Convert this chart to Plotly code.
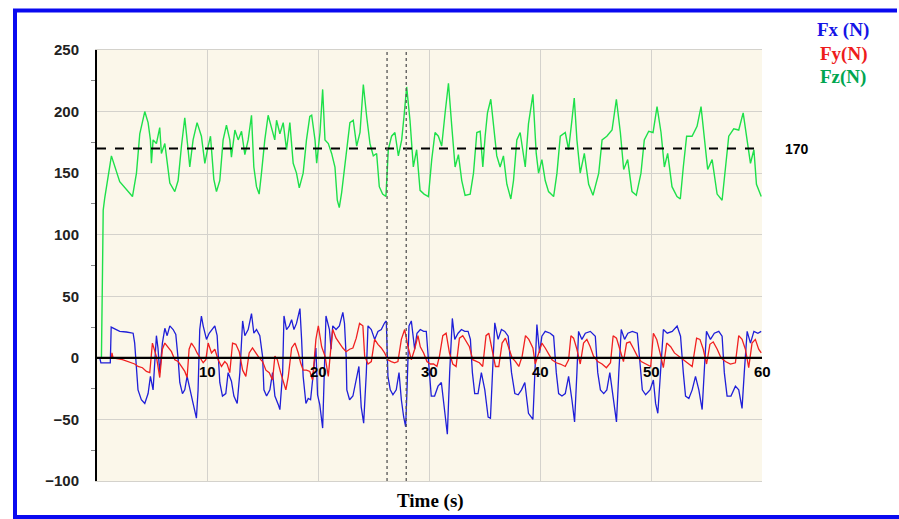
import plotly.graph_objects as go

# ---------------- data ----------------
fz_t = [0, 0.4, 0.5, 0.56, 0.7, 1.3, 2.05, 2.65, 3.2, 3.56, 3.86, 4.31, 4.61, 4.82, 4.91, 5.06, 5.36, 5.66, 5.81, 6.12,
        6.57, 7.02, 7.32, 7.62, 7.92, 8.22, 8.37, 8.67, 9.03, 9.42, 9.73, 10.03, 10.24, 10.54, 10.78, 11.08, 11.38, 11.68,
        11.98, 12.13, 12.44, 12.74, 13.04, 13.34, 13.64, 13.94, 14.15, 14.39, 14.63, 14.84, 15.14, 15.44, 15.74, 16.04,
        16.2, 16.5, 16.8, 17.1, 17.4, 17.7, 18.0, 18.25, 18.6, 18.9, 19.2, 19.37, 19.67, 19.82, 20.12, 20.36, 20.57, 20.87,
        21.17, 21.47, 21.68, 21.86, 22.07, 22.28, 22.52, 22.82, 23.12, 23.43, 23.73, 24.03, 24.33, 24.63, 24.93, 25.23,
        25.47, 25.77, 26.07, 26.28, 26.58, 26.88, 27.19, 27.49, 27.70, 27.94, 28.24, 28.54, 28.84, 29.15, 29.51, 29.9,
        30.2, 30.5, 30.8, 31.1, 31.41, 31.71, 32.01, 32.31, 32.61, 32.91, 33.21, 33.67, 33.97, 34.27, 34.57, 34.81, 35.02,
        35.23, 35.53, 35.77, 36.07, 36.37, 36.67, 36.98, 37.34, 37.58, 37.88, 38.18, 38.64, 38.93, 39.33, 39.63, 39.84,
        40.14, 40.44, 40.74, 41.2, 41.5, 41.8, 42.25, 42.55, 42.85, 43.06, 43.3, 43.6, 43.97, 44.36, 44.75, 45.27, 45.57,
        46.0, 46.47, 46.86, 47.22, 47.52, 47.88, 48.27, 48.66, 49.08, 49.38, 49.78, 50.17, 50.53, 50.89, 51.19, 51.49,
        51.88, 52.33, 52.63, 52.9, 53.2, 53.69, 54.14, 54.5, 54.8, 55.1, 55.5, 55.95, 56.4, 56.7, 57.0, 57.45, 57.9, 58.3,
        58.66, 58.96, 59.27, 59.5, 59.93]
fz_v = [0, 0, 73, 120, 130, 164, 143, 137, 131, 150, 182, 200, 191, 177, 158, 177, 174, 187, 166, 174,
        142, 135, 144, 172, 195, 169, 155, 177, 191, 180, 158, 172, 180, 145, 135, 144, 177, 189,
        177, 163, 185, 177, 184, 165, 177, 197, 155, 139, 133, 150, 177, 197, 188, 177,
        193, 182, 191, 169, 191, 158, 150, 138, 150, 177, 196, 197, 177, 158, 183, 218, 177, 174,
        166, 155, 128, 122, 134, 150, 172, 191, 193, 172, 183, 222, 196, 174, 164, 166,
        139, 133, 131, 169, 180, 183, 164, 177, 196, 220, 193, 155, 169, 136, 133, 131,
        161, 183, 180, 172, 199, 223, 188, 155, 165, 144, 132, 133, 150, 183, 184, 155, 180,
        199, 210, 188, 164, 155, 164, 141, 129, 144, 177, 183, 155, 190, 214, 166, 150,
        161, 144, 135, 131, 150, 180, 183, 169, 193, 211, 177, 150, 166, 141, 132, 150, 177,
        180, 185, 210, 183, 153, 161, 135, 132, 150, 177, 184, 183, 204, 183, 155, 166,
        139, 131, 129, 155, 180, 180, 188, 204, 177, 153, 161, 133, 128, 155, 180, 186, 185, 199,
        177, 158, 169, 141, 131]

fx_t = [0, 0.25, 0.35, 1.2, 1.28, 2.05, 2.65, 3.26, 3.4, 3.56, 3.7, 4.0, 4.31, 4.61, 4.82, 5.06, 5.21, 5.36, 5.5, 5.66,
        5.9, 6.12, 6.33, 6.57, 6.87, 7.11, 7.32, 7.47, 7.71, 7.92, 8.13, 8.37, 8.67, 8.97, 9.12, 9.27, 9.42, 9.58, 9.88,
        10.12, 10.42, 10.63, 10.84, 11.08, 11.32, 11.62, 11.83, 12.13, 12.35, 12.65, 12.89, 13.14, 13.34, 13.64, 13.94,
        14.15, 14.39, 14.69, 14.94, 15.06, 15.3, 15.6, 15.84, 16.05, 16.36, 16.5, 16.75, 16.87, 17.1, 17.35, 17.56, 17.77,
        18.0, 18.16, 18.31, 18.46, 18.6, 18.85, 19.06, 19.27, 19.5, 19.75, 19.9, 20.1, 20.36, 20.5, 20.66, 20.97, 21.12,
        21.27, 21.57, 21.87, 22.18, 22.33, 22.48, 22.54, 22.79, 23.09, 23.39, 23.63, 23.84, 24.06, 24.3, 24.45, 24.75,
        25.05, 25.35, 25.65, 25.95, 26.1, 26.25, 26.46, 26.7, 27.0, 27.25, 27.46, 27.67, 27.85, 27.97, 28.15, 28.36,
        28.66, 28.87, 29.17, 29.47, 29.71, 29.95, 30.16, 30.46, 30.77, 31.07, 31.37, 31.61, 31.82, 32.06, 32.28, 32.58,
        32.88, 33.18, 33.48, 33.69, 33.87, 34.08, 34.38, 34.68, 34.99, 35.29, 35.5, 35.68, 35.89, 36.19, 36.49, 36.79,
        37.1, 37.4, 37.7, 38.0, 38.3, 38.6, 38.93, 39.33, 39.54, 39.69, 39.93, 40.14, 40.44, 40.89, 41.2, 41.44, 41.65,
        41.95, 42.25, 42.55, 42.85, 43.09, 43.3, 43.45, 43.75, 44.06, 44.51, 44.96, 45.18, 45.42, 45.72, 46.0, 46.27,
        46.57, 46.87, 47.08, 47.3, 47.6, 47.9, 48.3, 48.75, 48.99, 49.2, 49.5, 49.9, 50.2, 50.4, 50.6, 50.85, 51.1,
        51.45, 51.9, 52.34, 52.65, 52.9, 53.1, 53.4, 53.7, 54.0, 54.3, 54.6, 54.8, 54.99, 55.35, 55.7, 56.1, 56.4, 56.6,
        56.85, 57.2, 57.6, 57.9, 58.2, 58.4, 58.66, 58.96, 59.27, 59.63, 59.93]
fx_v = [0, 0, -4, -4, 25, 21.5, 21, 20, 12, -12, -26, -34, -37, -29, -15, -26, 1, 18, 8, -12,
        12, 24, 18, 26, 23, 19, -1, -20, -29, -26, -15, -26, -37, -49, -26, 23, 34, 26, 15,
        20, 23, 26, 18, -20, -31, -29, -12, -19, -31, -37, -12, 30, 18, 23, 36,
        20, 23, 18, 1, -26, -31, -26, -12, -31, -38, -42, -12, 34, 23, 26, 31, 23,
        28, 34, 40, 15, -15, -37, -33, -34, -15, 8, -30, -38, -57, -10, 34, 23, 7,
        26, 23, 26, 37, 28, 1, -26, -34, -31, -18, -7, -40, -53, -12, 26, 23,
        15, 21.5, 23, 28.5, 30, -15, -26, -30, -26, -12, -34, -48, -56, -26, 26, 30,
        7, 20, 23, 21.5, 21.5, -7, -31, -31, -23, -20, -42, -62, -12, 32, 15, 20,
        23, 21.5, 21.5, 15, -12, -29, -29, -12, -26, -48, -49, -12, 28.5, 15, 23, 21.5,
        17.6, -12, -29, -30, -26, -20, -45, -50, 1, 27, 4, 17.6, 21.5, 20, 17.6, -12, -29,
        -31, -29, -15, -34, -52, -12, 21.5, 15, 20, 21.5, 17.6, -12, -26, -29, -26, -12,
        -31, -52, -12, 23, 15, 20, 21.5, 20, -4, -26, -30, -26, -18, -37, -45, -12, 23,
        20, 21.5, 25.8, 17.6, -12, -31, -33, -26, -15, -26, -42, -12, 21.5, 15, 20, 21.5, 17.6, -12,
        -31, -31, -23, -26, -41, -12, 21.5, 12, 21.5, 20, 21.5]

fy_t = [0, 1.3, 1.35, 1.45, 2.3, 3.4, 3.7, 4.1, 4.46, 4.76, 5.0, 5.21, 5.36, 5.66, 5.9, 6.12, 6.42, 6.72, 7.02, 7.32,
        7.62, 7.92, 8.13, 8.31, 8.52, 8.82, 9.03, 9.27, 9.58, 9.82, 10.03, 10.33, 10.63, 10.93, 11.23, 11.53, 11.74,
        11.98, 12.23, 12.53, 12.83, 13.14, 13.43, 13.73, 14.03, 14.33, 14.63, 14.94, 15.24, 15.54, 15.84, 16.05, 16.27,
        16.57, 16.87, 17.04, 17.26, 17.56, 17.86, 18.16, 18.37, 18.6, 18.9, 19.2, 19.45, 19.75, 19.97, 20.27, 20.57,
        20.87, 21.17, 21.27, 21.57, 21.87, 22.18, 22.48, 22.79, 23.09, 23.39, 23.69, 23.99, 24.15, 24.45, 24.75, 25.05,
        25.35, 25.65, 25.95, 26.25, 26.55, 26.85, 27.15, 27.46, 27.76, 28.06, 28.36, 28.66, 28.96, 29.17, 29.47, 29.77,
        30.07, 30.37, 30.67, 30.9, 31.2, 31.5, 31.8, 32.1, 32.4, 32.7, 33.0, 33.3, 33.6, 33.9, 34.2, 34.5, 34.8, 35.1,
        35.35, 35.65, 35.95, 36.25, 36.55, 36.85, 37.16, 37.46, 37.76, 38.06, 38.36, 38.66, 38.96, 39.33, 39.54, 39.84,
        40.14, 40.44, 40.74, 41.05, 41.44, 41.8, 42.25, 42.55, 42.76, 43.0, 43.3, 43.6, 43.9, 44.2, 44.5, 44.8, 45.18,
        45.57, 45.96, 46.33, 46.57, 46.87, 47.17, 47.5, 47.78, 48.08, 48.38, 48.75, 49.1, 49.5, 49.96, 50.2, 50.5, 50.8,
        51.1, 51.4, 51.76, 52.1, 52.5, 52.9, 53.25, 53.7, 54.1, 54.4, 54.7, 55.0, 55.3, 55.6, 55.96, 56.3, 56.7, 57.15,
        57.6, 57.9, 58.2, 58.5, 58.8, 59.1, 59.4, 59.7, 59.93]
fy_v = [0, 0, 4, 0, -1.5, -5, -7, -8, -11, -12, 12, 5, 1, -16, 7, 12, 8, 5, -1.5, -3,
        -7, -11, -16, 7, 12, 8, 4, 0, -4, -1.5, 12, 4, 7, -1.5, -7, -3, -5,
        -12, 12, 11, 5, -10, -15, 4, 8, 4, 0, -3, -10, -12, -18, 1.4, -1.5,
        -12, -20, -26, -15, 8, 12, 4, -4, -10, -10, -11, -18, 15, 26, 9, 1.4,
        -15, 15, 23, 16, 12, 8, 5, 7, 8, 16, 28, 26, 1.4, -5, -3, 15,
        11, 8, 4, -1.5, -3, -4, -3, 15, 23, 9, -1.5, 7, 18, 9, 4, -3,
        -5, -5, -7, 1.4, 18, 20, 4, -5, -7, 16, 18, 14, 9, -1.5, -3, -4, -7, 18,
        20, 7, -7, -7, 12, 16, 8, 0, -3, -7, 1.4, 18, 15, 8, -5, 4,
        12, 8, 3, -1.5, -4, -5, -7, -1.5, 18, 16, 7, -5, 12, 15, 9, 1.4, -3,
        -5, -8, -4, 18, 16, 7, -3, 12, 13, 8, 1.4, -3, -5, -7, 20, 15, 4,
        -8, 12, 9, 4, 1.4, -1.5, -4, -7, 16, 15, 7, -5, 11, 13, 7, 0, -3, -5,
        -4, 18, 15, 7, -8, 12, 15, 7, 4]

y_ticks = [-100, -50, 0, 50, 100, 150, 200, 250]
y_tick_text = ["\u2212100", "\u221250", "0", "50", "100", "150", "200", "250"]
y_minor = [-75, -25, 25, 75, 125, 175, 225]
x_ticks = [10, 20, 30, 40, 50, 60]
ref_level = 170
marker_times = [26.17, 27.9]

W, H = 899, 519
L, R, T, B = 97, 137, 50, 38
PW, PH = W - L - R, H - T - B


def px(x):
    return (x - L) / PW


def py(y):
    return (H - B - y) / PH


fig = go.Figure()
fig.add_trace(go.Scatter(x=fx_t, y=fx_v, mode="lines", name="Fx (N)",
                         line=dict(color="#1F1FD8", width=1.3)))
fig.add_trace(go.Scatter(x=fy_t, y=fy_v, mode="lines", name="Fy(N)",
                         line=dict(color="#F02020", width=1.3)))
fig.add_trace(go.Scatter(x=fz_t, y=fz_v, mode="lines", name="Fz(N)",
                         line=dict(color="#1EE04A", width=1.4)))

shapes = []
# zero line on top of the traces
shapes.append(dict(type="line", xref="x", yref="y", x0=0, x1=60, y0=0, y1=0,
                   line=dict(color="black", width=2.2), layer="above"))
# reference level
shapes.append(dict(type="line", xref="x", yref="y", x0=0, x1=60, y0=ref_level, y1=ref_level,
                   line=dict(color="black", width=1.8, dash="dash"), layer="above"))
# time markers
for tm in marker_times:
    shapes.append(dict(type="line", xref="x", yref="y", x0=tm, x1=tm, y0=-100, y1=250,
                       line=dict(color="#555555", width=1.3, dash="dot"), layer="above"))
# blue frame
frame = dict(color="#0A0AF0", width=4)
shapes.append(dict(type="line", xref="paper", yref="paper", x0=px(15), x1=px(15), y0=py(9), y1=py(519),
                   line=frame))
shapes.append(dict(type="line", xref="paper", yref="paper", x0=px(13), x1=px(897), y0=py(10.5), y1=py(10.5),
                   line=frame))
shapes.append(dict(type="line", xref="paper", yref="paper", x0=px(13), x1=px(899), y0=py(517), y1=py(517),
                   line=frame))

annotations = []
for xt in x_ticks:
    annotations.append(dict(x=xt, y=0, xref="x", yref="y", text=str(xt), showarrow=False,
                            xanchor="center", yanchor="top", yshift=-3,
                            font=dict(family="Liberation Sans", size=15, color="black", weight="bold")))
annotations.append(dict(x=px(797), y=py(149), xref="paper", yref="paper", text=str(ref_level),
                        showarrow=False, xanchor="center", yanchor="middle",
                        font=dict(family="Liberation Sans", size=14, color="black", weight="bold")))
legend_items = [("Fx (N)", "#1414E6", 30), ("Fy(N)", "#EE1C1C", 54), ("Fz(N)", "#00A650", 77)]
for label, col, yy in legend_items:
    annotations.append(dict(x=px(843), y=py(yy), xref="paper", yref="paper", text=label, showarrow=False,
                            xanchor="center", yanchor="middle",
                            font=dict(family="Liberation Serif", size=19, color=col, weight="bold")))
annotations.append(dict(x=px(430), y=py(501), xref="paper", yref="paper", text="Time (s)", showarrow=False,
                        xanchor="center", yanchor="middle",
                        font=dict(family="Liberation Serif", size=19, color="black", weight="bold")))

fig.update_layout(
    width=W, height=H,
    margin=dict(l=L, r=R, t=T, b=B, pad=0),
    paper_bgcolor="white",
    plot_bgcolor="#FBF7EA",
    showlegend=False,
    shapes=shapes,
    annotations=annotations,
    xaxis=dict(range=[0, 60], dtick=10, tick0=0, showticklabels=False, ticks="",
               showgrid=True, gridcolor="#D4D2CC", gridwidth=1.2, zeroline=False,
               showline=True, linecolor="#D4D2CC", linewidth=1.2, mirror=True),
    yaxis=dict(range=[-100, 250], tickvals=y_ticks, ticktext=y_tick_text, ticks="",
               tickfont=dict(family="Liberation Sans", size=15, color="#222222", weight="bold"),
               ticklabelstandoff=13,
               showgrid=True, gridcolor="#D4D2CC", gridwidth=1.2, zeroline=False,
               showline=True, linecolor="black", linewidth=2,
               minor=dict(tickvals=y_minor, ticks="outside", ticklen=4, tickcolor="#888888",
                          showgrid=False)),
)

fig.write_html("out.html")
